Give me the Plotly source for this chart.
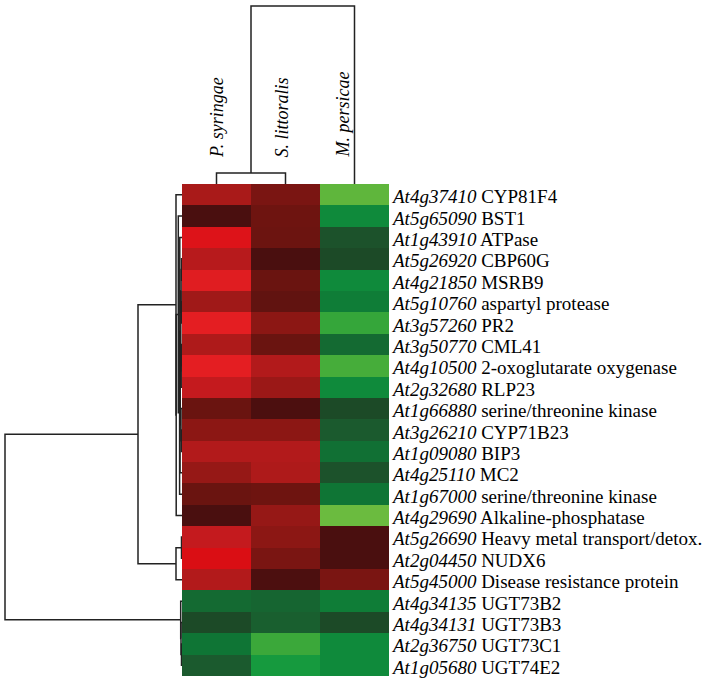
import plotly.graph_objects as go

# ---------------- data ----------------
conditions = ["P. syringae", "S. littoralis", "M. persicae"]
gene_ids = ["At4g37410", "At5g65090", "At1g43910", "At5g26920", "At4g21850",
            "At5g10760", "At3g57260", "At3g50770", "At4g10500", "At2g32680",
            "At1g66880", "At3g26210", "At1g09080", "At4g25110", "At1g67000",
            "At4g29690", "At5g26690", "At2g04450", "At5g45000", "At4g34135",
            "At4g34131", "At2g36750", "At1g05680"]
gene_names = ["CYP81F4", "BST1", "ATPase", "CBP60G", "MSRB9", "aspartyl protease",
              "PR2", "CML41", "2-oxoglutarate oxygenase", "RLP23",
              "serine/threonine kinase", "CYP71B23", "BIP3", "MC2",
              "serine/threonine kinase", "Alkaline-phosphatase",
              "Heavy metal transport/detox.", "NUDX6", "Disease resistance protein",
              "UGT73B2", "UGT73B3", "UGT73C1", "UGT74E2"]

p_syringae = [2.4, 0.3, 3.9, 2.7, 3.6, 2.2, 3.7, 2.5, 3.7, 3.0, 1.0, 1.8,
              2.6, 2.0, 1.0, 0.3, 3.0, 4.0, 2.6, -0.8, -0.3, -1.0, -0.5]
s_littoralis = [1.4, 1.1, 1.05, 0.3, 1.0, 0.8, 1.8, 1.0, 2.6, 2.1, 0.35, 1.8,
                2.6, 2.5, 1.1, 2.0, 1.8, 1.4, 0.35, -0.7, -0.6, -2.6, -2.0]
m_persicae = [-3.3, -1.5, -0.4, -0.3, -1.5, -1.2, -2.5, -0.8, -2.8, -1.5, -0.3,
              -0.5, -0.9, -0.4, -1.0, -3.6, 0.3, 0.3, 1.4, -1.2, -0.3, -1.5, -1.5]

# gene dendrogram (left, right, merge height)
n7a = ((3, 4, 0.05), (5, 6, 0.06), 0.09)
n7b = ((7, 8, 0.04), 9, 0.08)
n7 = (n7a, n7b, 0.12)
n8 = (10, (11, 12, 0.05), 0.10)
n6 = (n7, n8, 0.18)
n5 = (n6, 13, 0.20)
n4 = (2, n5, 0.22)
n3 = (n4, 14, 0.24)
n2 = (1, n3, 0.37)
n1 = (n2, 15, 0.58)
big_cluster = (0, n1, 0.60)
three_cluster = ((16, 17, 0.05), 18, 0.60)
red_cluster = (big_cluster, three_cluster, 4.4)
green_cluster = (19, (20, (21, 22, 0.05), 0.10), 0.13)
gene_tree = (red_cluster, green_cluster, 17.7)

# condition dendrogram
cond_tree = ((0, 1, 1.1), 2, 17.8)

# ---------------- helpers ----------------
def dendro_segments(node, xs, ys, orient):
    if isinstance(node, int):
        return float(node), 0.0
    left, right, h = node
    pl, hl = dendro_segments(left, xs, ys, orient)
    pr, hr = dendro_segments(right, xs, ys, orient)
    pts = [(hl, pl), (h, pl), (h, pr), (hr, pr)]
    for a, b in pts:
        if orient == "left":
            xs.append(a); ys.append(b)
        else:
            xs.append(b); ys.append(a)
    xs.append(None); ys.append(None)
    return (pl + pr) / 2.0, h

W, H = 712, 684
hx0, hx1 = 182 / W, 389 / W
hy0, hy1 = (H - 676) / H, (H - 184) / H

colorscale = [
    [0.0, "#7CC242"], [0.125, "#52B13A"], [0.1875, "#35A63A"], [0.25, "#169A3E"],
    [0.3125, "#0F8A3B"], [0.375, "#0F7535"], [0.4375, "#1B5A2E"], [0.4625, "#1C4A27"],
    [0.5, "#2A2A1C"], [0.5375, "#4A0F0F"], [0.625, "#6A1410"], [0.6875, "#7E1512"],
    [0.75, "#961816"], [0.8125, "#AE1A1A"], [0.875, "#C41A1E"], [0.9375, "#DC1C20"],
    [0.9625, "#E41E22"], [1.0, "#DA0E14"],
]

z = [[p_syringae[i], s_littoralis[i], m_persicae[i]] for i in range(len(gene_ids))]

fig = go.Figure()
fig.add_trace(go.Heatmap(
    z=z, x=list(range(len(conditions))), y=list(range(len(gene_ids))),
    colorscale=colorscale, zmin=-4, zmax=4, showscale=False,
    xaxis="x", yaxis="y", hoverinfo="skip"))

lx, ly = [], []
dendro_segments(gene_tree, lx, ly, "left")
fig.add_trace(go.Scatter(x=lx, y=ly, mode="lines", xaxis="x2", yaxis="y2",
                         line=dict(color="#222222", width=1.5), hoverinfo="skip"))

tx, ty = [], []
dendro_segments(cond_tree, tx, ty, "top")
fig.add_trace(go.Scatter(x=tx, y=ty, mode="lines", xaxis="x3", yaxis="y3",
                         line=dict(color="#222222", width=1.5), hoverinfo="skip"))

hidden = dict(visible=False, showgrid=False, zeroline=False, showticklabels=False)
fig.update_layout(
    width=W, height=H, margin=dict(l=0, r=0, t=0, b=0),
    paper_bgcolor="white", plot_bgcolor="white", showlegend=False,
    xaxis=dict(domain=[hx0, hx1], range=[-0.5, 2.5], **hidden),
    yaxis=dict(domain=[hy0, hy1], range=[len(gene_ids) - 0.5, -0.5], **hidden),
    xaxis2=dict(domain=[0, hx0], range=[18.2, 0], anchor="y2", **hidden),
    yaxis2=dict(domain=[hy0, hy1], range=[len(gene_ids) - 0.5, -0.5], anchor="x2", **hidden),
    xaxis3=dict(domain=[hx0, hx1], range=[-0.5, 2.5], anchor="y3", **hidden),
    yaxis3=dict(domain=[hy1, 1], range=[0, 18.4], anchor="x3", **hidden),
)

row_font = dict(family="Liberation Serif, Times New Roman, serif", size=19, color="black")
col_font = dict(family="Liberation Serif, Times New Roman, serif", size=18, color="black")
annotations = []
for i, (gid, name) in enumerate(zip(gene_ids, gene_names)):
    annotations.append(dict(
        x=389 / W, xref="paper", xanchor="left",
        y=i, yref="y", yanchor="middle", yshift=-2,
        text=f"<i>{gid}</i> {name}", showarrow=False, font=row_font))
label_shift = [0, -4, -12]
for j, c in enumerate(conditions):
    annotations.append(dict(
        x=j, xref="x", xshift=label_shift[j], y=1 - 160 / H, yref="paper",
        yanchor="bottom", xanchor="center", textangle=-90,
        text=f"<i>{c}</i>", showarrow=False, font=col_font))
fig.update_layout(annotations=annotations)

fig.write_html("out.html", config={"displayModeBar": False},
               post_script="document.body.style.margin='0';")
